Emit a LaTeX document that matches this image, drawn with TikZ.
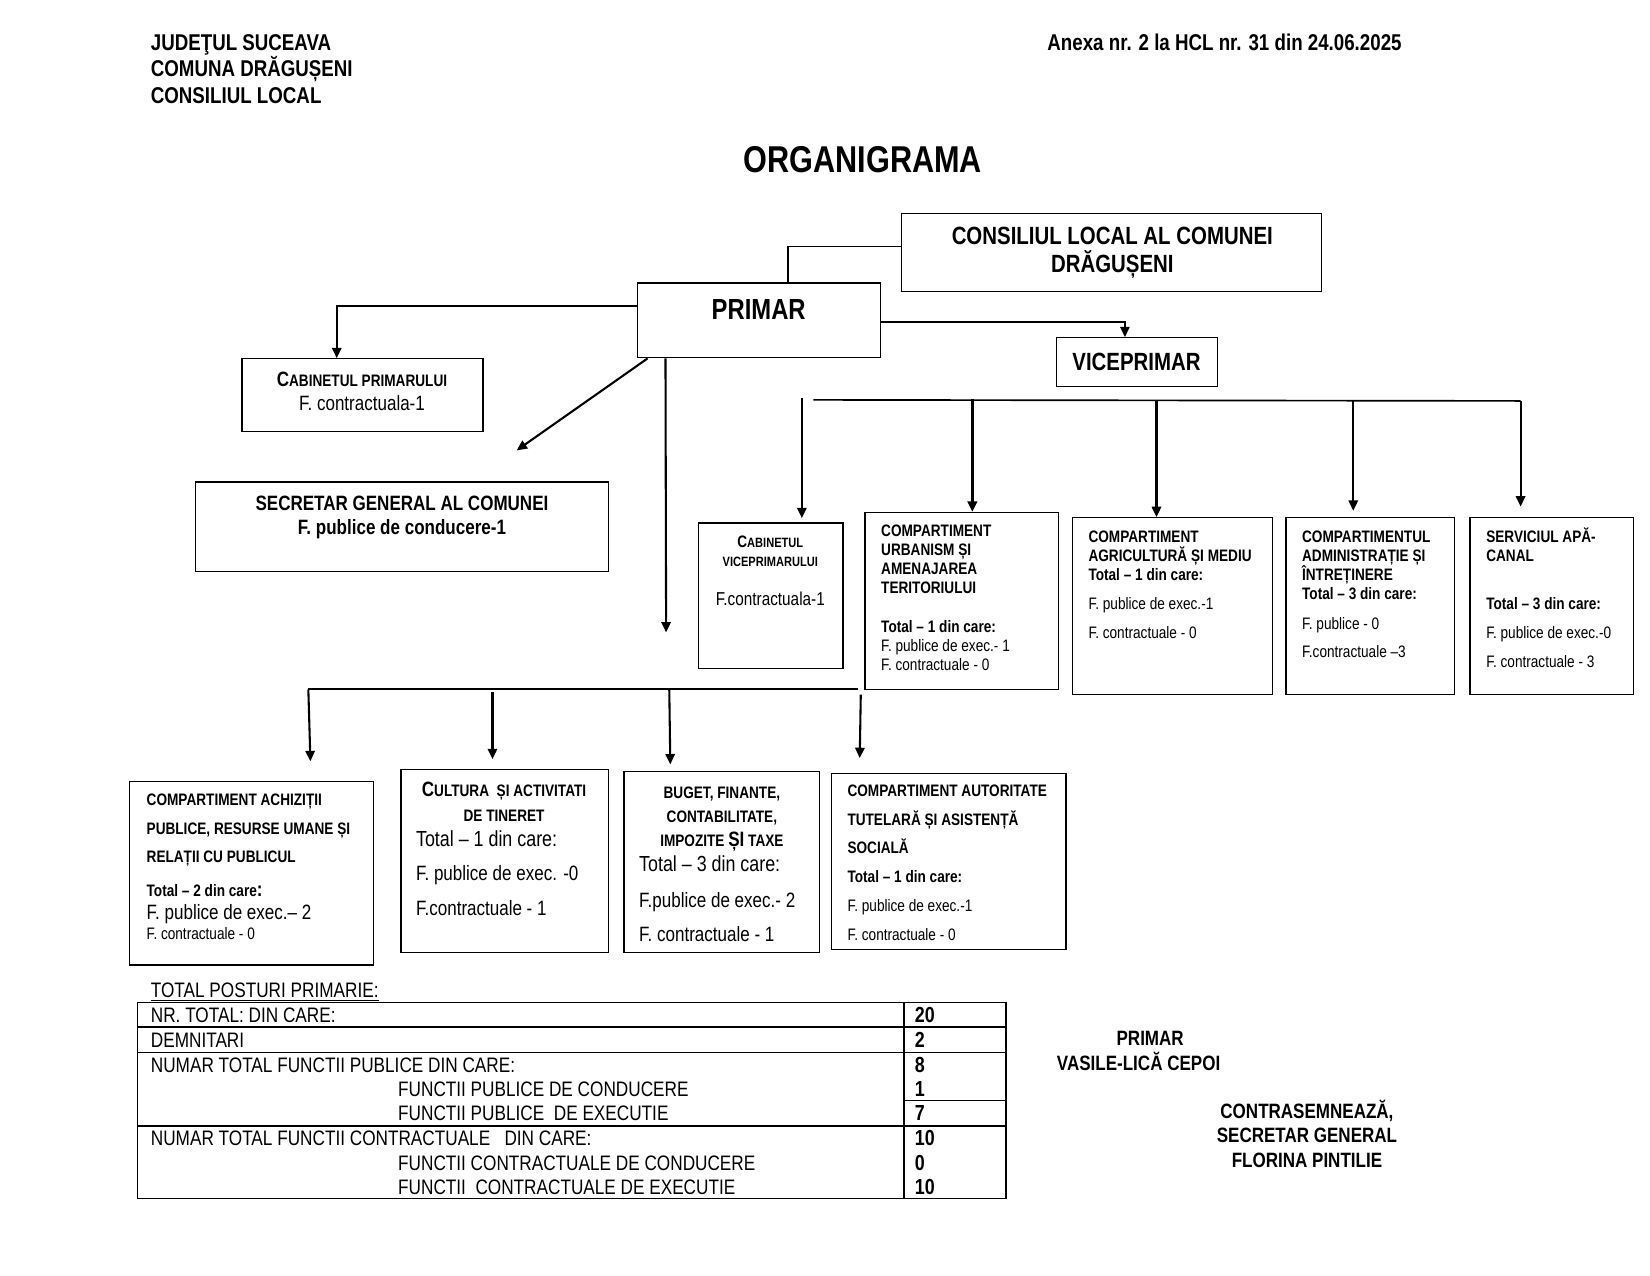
\documentclass[tikz,border=0pt]{standalone}
\usepackage{fontspec}
\setmainfont[FakeStretch=0.82]{Liberation Sans}
\usetikzlibrary{arrows.meta,calc}
\newcommand\ff[1]{\fontsize{#1}{#1}\selectfont}
\newcommand\uu{0.17819mm}
\newcommand\SmC[4]{{\ff{#1}#2}{\ff{#3}#4}}
\tikzset{
  boxst/.style={draw,line width=0.6pt,inner sep=0pt},
  tl/.style={anchor=base west,inner sep=0pt},
  tc/.style={anchor=base,inner sep=0pt},
  ln/.style={line width=0.7pt},
  arr/.style={line width=1pt,-{Triangle[length=5pt,width=4.5pt]}},
  bus/.style={line width=0.8pt},
  tabtxt/.style={font=\ff{10.1}},
  tabnum/.style={font=\ff{10.5}\bfseries},
}
\newcommand\BOX[5]{\node[boxst,minimum width={(#4-#2)*\uu},minimum height={(#5-#3)*\uu}] (#1) at ({(#2+#4)/2},{(#3+#5)/2}) {};}
\newcommand\TL[5]{\node[tl,font=#4] (#1) at (#2,#3) {#5};}
\newcommand\TC[5]{\node[tc,font=#4] (#1) at (#2,#3) {#5};}
\begin{document}
\begin{tikzpicture}[x=0.17819mm,y=-0.17819mm]
\useasboundingbox (0,0) rectangle (1568,1211.7);
\fill[white] (0,0) rectangle (1568,1211.7);
% header
\TL{h1}{143}{48}{\ff{11}\bfseries}{JUDEŢUL SUCEAVA}
\TL{h2}{143}{73}{\ff{11}\bfseries}{COMUNA DRĂGUȘENI}
\TL{h3}{143}{98}{\ff{11}\bfseries}{CONSILIUL LOCAL}
\TL{anexa}{995}{48}{\ff{11}\bfseries}{Anexa nr. 2 la HCL nr. 31 din 24.06.2025}
\TC{title}{820}{164}{\ff{18}\bfseries}{ORGANIGRAMA}
% boxes
\BOX{cons}{857}{203}{1256}{277}
\BOX{primar}{606}{269}{837}{340}
\BOX{vice}{1004}{321}{1157}{367}
\BOX{cabp}{230}{341}{459}{410}
\BOX{secr}{186}{458}{578}{543}
\BOX{cabv}{664}{497}{801}{635}
\BOX{urb}{822}{487}{1006}{655}
\BOX{agr}{1019}{492}{1209}{660}
\BOX{adm}{1222}{492}{1382}{660}
\BOX{serv}{1397}{492}{1552}{660}
\BOX{ach}{123}{743}{355}{917}
\BOX{cult}{381}{731}{578}{905}
\BOX{bug}{593}{733}{779}{905}
\BOX{aut}{790}{735}{1013}{902}
% box texts
\TC{consA}{1057}{232}{\ff{12}\bfseries}{CONSILIUL LOCAL AL COMUNEI}
\TC{consB}{1057}{259}{\ff{12}\bfseries}{DRĂGUȘENI}
\TC{primT}{721}{304}{\ff{14}\bfseries}{PRIMAR}
\TC{viceT}{1080}{352}{\ff{12}\bfseries}{VICEPRIMAR}
\TC{cabpA}{344}{367}{\bfseries}{\SmC{10}{C}{8}{ABINETUL PRIMARULUI}}
\TC{cabpB}{344}{390}{\ff{10}}{F. contractuala-1}
\TC{secrA}{382}{485}{\ff{10}\bfseries}{SECRETAR GENERAL AL COMUNEI}
\TC{secrB}{382}{508}{\ff{10}\bfseries}{F. publice de conducere-1}
\TC{cabvA}{732}{520}{\bfseries}{\SmC{8}{C}{6.5}{ABINETUL}}
\TC{cabvB}{732}{538}{\ff{6.5}\bfseries}{VICEPRIMARULUI}
\TC{cabvC}{732}{575}{\ff{9}}{F.contractuala-1}
\TL{urbA}{837}{510}{\ff{8}\bfseries}{COMPARTIMENT}
\TL{urbB}{837}{528}{\ff{8}\bfseries}{URBANISM ȘI}
\TL{urbC}{837}{546}{\ff{8}\bfseries}{AMENAJAREA}
\TL{urbD}{837}{564}{\ff{8}\bfseries}{TERITORIULUI}
\TL{urbE}{837}{601}{\ff{8}\bfseries}{Total – 1 din care:}
\TL{urbF}{837}{619}{\ff{8}}{F. publice de exec.- 1}
\TL{urbG}{837}{637}{\ff{8}}{F. contractuale - 0}
\TL{agrA}{1034}{516}{\ff{8}\bfseries}{COMPARTIMENT}
\TL{agrB}{1034}{534}{\ff{8}\bfseries}{AGRICULTURĂ ȘI MEDIU}
\TL{agrC}{1034}{552}{\ff{8}\bfseries}{Total – 1 din care:}
\TL{agrD}{1034}{579}{\ff{8}}{F. publice de exec.-1}
\TL{agrE}{1034}{607}{\ff{8}}{F. contractuale - 0}
\TL{admA}{1237}{516}{\ff{8}\bfseries}{COMPARTIMENTUL}
\TL{admB}{1237}{534}{\ff{8}\bfseries}{ADMINISTRAȚIE ȘI}
\TL{admC}{1237}{552}{\ff{8}\bfseries}{ÎNTREȚINERE}
\TL{admD}{1237}{570}{\ff{8}\bfseries}{Total – 3 din care:}
\TL{admE}{1237}{598}{\ff{8}}{F. publice - 0}
\TL{admF}{1237}{625}{\ff{8}}{F.contractuale –3}
\TL{servA}{1412}{516}{\ff{8}\bfseries}{SERVICIUL APĂ-}
\TL{servB}{1412}{534}{\ff{8}\bfseries}{CANAL}
\TL{servC}{1412}{579}{\ff{8}\bfseries}{Total – 3 din care:}
\TL{servD}{1412}{607}{\ff{8}}{F. publice de exec.-0}
\TL{servE}{1412}{634}{\ff{8}}{F. contractuale - 3}
\TL{achA}{139}{765}{\ff{8}\bfseries}{COMPARTIMENT ACHIZIȚII}
\TL{achB}{139}{793}{\ff{8}\bfseries}{PUBLICE, RESURSE UMANE ȘI}
\TL{achC}{139}{820}{\ff{8}\bfseries}{RELAȚII CU PUBLICUL}
\TL{achD}{139}{852}{\ff{8}\bfseries}{Total – 2 din care{\ff{10}:}}
\TL{achE}{139}{874}{\ff{10}}{F. publice de exec.– 2}
\TL{achF}{139}{893}{\ff{8}}{F. contractuale - 0}
\TC{cultA}{479}{757}{\bfseries}{\SmC{10}{C}{8}{ULTURA\ \ ȘI ACTIVITATI}}
\TC{cultB}{479}{781}{\ff{8}\bfseries}{DE TINERET}
\TL{cultC}{395}{804}{\ff{10.5}}{Total – 1 din care:}
\TL{cultD}{395}{837}{\ff{10}}{F. publice de exec. -0}
\TL{cultE}{395}{870}{\ff{10}}{F.contractuale - 1}
\TC{bugA}{686}{759}{\ff{8}\bfseries}{BUGET, FINANTE,}
\TC{bugB}{686}{782}{\ff{8}\bfseries}{CONTABILITATE,}
\TC{bugC}{686}{804}{\ff{8}\bfseries}{IMPOZITE {\ff{10}ȘI} TAXE}
\TL{bugD}{607}{828}{\ff{10.5}}{Total – 3 din care:}
\TL{bugE}{607}{862}{\ff{10}}{F.publice de exec.- 2}
\TL{bugF}{607}{895}{\ff{10}}{F. contractuale - 1}
\TL{autA}{805}{757}{\ff{8}\bfseries}{COMPARTIMENT AUTORITATE}
\TL{autB}{805}{784}{\ff{8}\bfseries}{TUTELARĂ ȘI ASISTENȚĂ}
\TL{autC}{805}{811}{\ff{8}\bfseries}{SOCIALĂ}
\TL{autD}{805}{839}{\ff{8}\bfseries}{Total – 1 din care:}
\TL{autE}{805}{866}{\ff{8}}{F. publice de exec.-1}
\TL{autF}{805}{894}{\ff{8}}{F. contractuale - 0}
% connectors
\draw[ln] ($(cons.west)+(0,-6)$) -| ($(primar.north)+(27.5,0)$);
\draw[arr,line width=0.8pt] ($(primar.east)+(0,1.5)$) -| ($(vice.north)+(-11.5,0)$);
\draw[arr] ($(primar.west)+(0,-13.5)$) -| ($(cabp.north)+(-24.5,0)$);
\coordinate (diagEnd) at (491,428);
\coordinate (vEnd) at (633,601);
\draw[arr] ($(primar.south west)+(10,0)$) -- (diagEnd);
\draw[arr] ($(primar.south west)+(27,0)$) -- (vEnd);
% vice bus
\coordinate (busL) at (773,380);
\coordinate (busR) at (1445,381);
\draw[bus] (busL) -- (busR);
\coordinate (b1) at (762,378);
\coordinate (b2) at (924,379);
\coordinate (b3) at (1099,381);
\coordinate (b4) at (1286,381);
\coordinate (b5) at (1445,381);
\draw[arr] (b1) -- ($(b1 |- cabv.north)+(0,-4)$);
\draw[arr,line width=1.6pt] (b2) -- (b2 |- urb.north);
\draw[arr] (b3) -- (b3 |- agr.north);
\draw[arr] (b4) -- ($(b4 |- adm.north)+(0,-6)$);
\draw[arr] (b5) -- ($(b5 |- serv.north)+(0,-10)$);
% primar lower bus
\coordinate (cL) at (293,655);
\coordinate (cR) at (815,655);
\draw[bus] (cL) -- (cR);
\coordinate (c1) at (293,655);
\coordinate (c2) at (468,658);
\coordinate (c3) at (636,655);
\coordinate (c4) at (818,660);
\draw[arr] (c1) -- ($(c1 |- ach.north)+(2,-19)$);
\draw[arr] (c2) -- ($(c2 |- cult.north)+(0,-9)$);
\draw[arr] (c3) -- ($(c3 |- bug.north)+(1,-6)$);
\draw[arr] (c4) -- ($(c4 |- aut.north)+(-1,-14)$);
% table
\TL{totp}{143}{948}{\ff{10.1}}{\underline{TOTAL POSTURI PRIMARIE:}}
\node[boxst,minimum width={825*\uu},minimum height={186*\uu}] (tab) at (543.5,1046) {};
\draw[line width=0.6pt] (859,953) -- (859,1139);
\draw[line width=0.6pt] (131,976) -- (956,976);
\draw[line width=0.6pt] (131,1000) -- (956,1000);
\draw[line width=0.6pt] (131,1070) -- (956,1070);
\draw[line width=0.6pt] (859,1046) -- (956,1046);
\node[tl,tabtxt] (r1) at (143,972) {NR. TOTAL: DIN CARE:};
\node[tl,tabtxt] (r2) at (143,995) {DEMNITARI};
\node[tl,tabtxt] (r3) at (143,1019) {NUMAR TOTAL FUNCTII PUBLICE DIN CARE:};
\node[tl,tabtxt] (r4) at (378,1042) {FUNCTII PUBLICE DE CONDUCERE};
\node[tl,tabtxt] (r5) at (378,1065) {FUNCTII PUBLICE\ \ DE EXECUTIE};
\node[tl,tabtxt] (r6) at (143,1089) {NUMAR TOTAL FUNCTII CONTRACTUALE\ \ \ DIN CARE:};
\node[tl,tabtxt] (r7) at (378,1112) {FUNCTII CONTRACTUALE DE CONDUCERE};
\node[tl,tabtxt] (r8) at (378,1135) {FUNCTII\ \ CONTRACTUALE DE EXECUTIE};
\node[tl,tabnum] (n1) at (869,972) {20};
\node[tl,tabnum] (n2) at (869,995) {2};
\node[tl,tabnum] (n3) at (869,1019) {8};
\node[tl,tabnum] (n4) at (869,1042) {1};
\node[tl,tabnum] (n5) at (869,1065) {7};
\node[tl,tabnum] (n6) at (869,1089) {10};
\node[tl,tabnum] (n7) at (869,1112) {0};
\node[tl,tabnum] (n8) at (869,1135) {10};
% signatures
\TC{s1}{1093}{994}{\ff{10}\bfseries}{PRIMAR}
\TC{s2}{1082}{1017}{\ff{10}\bfseries}{VASILE-LICĂ CEPOI}
\TC{s3}{1242}{1063}{\ff{10}\bfseries}{CONTRASEMNEAZĂ,}
\TC{s4}{1242}{1086}{\ff{10}\bfseries}{SECRETAR GENERAL}
\TC{s5}{1242}{1109}{\ff{10}\bfseries}{FLORINA PINTILIE}
\end{tikzpicture}
\end{document}
